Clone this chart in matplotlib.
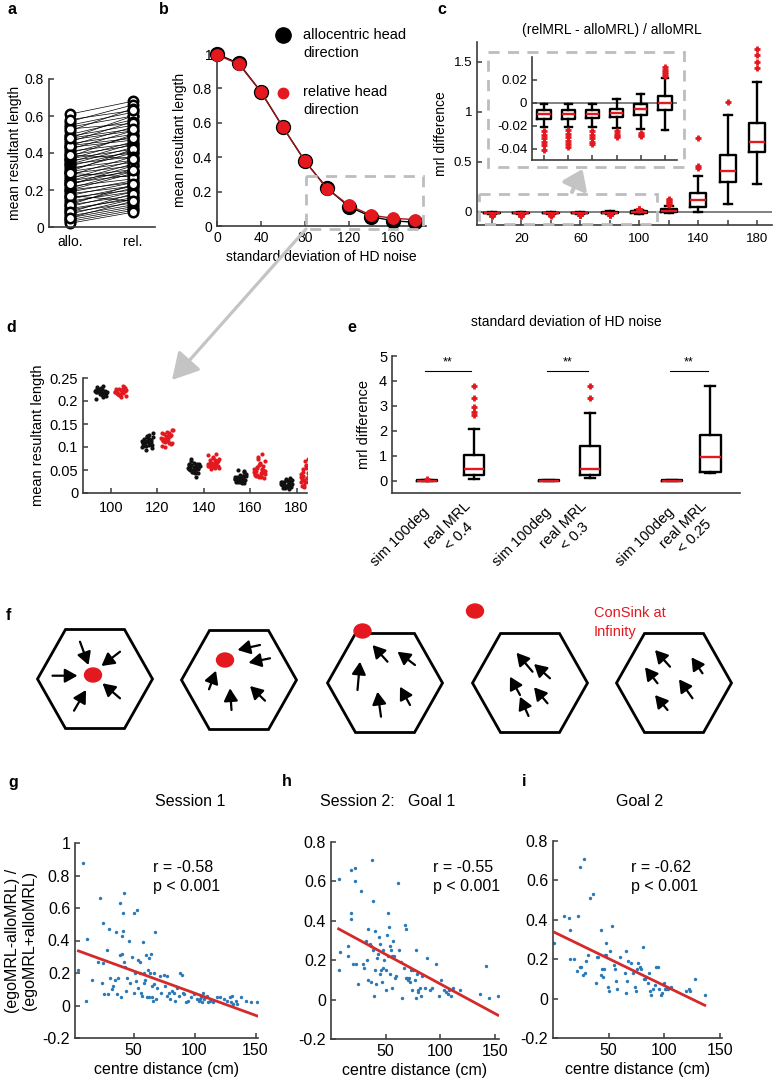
import numpy as np
import matplotlib
matplotlib.use("Agg")
import matplotlib.pyplot as plt
from matplotlib.patches import Polygon, Ellipse, Rectangle, FancyArrowPatch
from matplotlib.ticker import FuncFormatter

# ======================= DATA =======================
# --- panel a: paired mean resultant lengths
a_labels = ["allo.", "rel."]
a_allo = [0.61, 0.57, 0.55, 0.54, 0.52, 0.50, 0.49, 0.48, 0.47, 0.46,
          0.45, 0.44, 0.43, 0.42, 0.41, 0.40, 0.39, 0.38, 0.37, 0.37,
          0.36, 0.35, 0.34, 0.34, 0.33, 0.32, 0.31, 0.30, 0.30, 0.29,
          0.28, 0.27, 0.26, 0.25, 0.25, 0.24, 0.23, 0.22, 0.21, 0.20,
          0.20, 0.19, 0.18, 0.17, 0.16, 0.15, 0.14, 0.13, 0.12, 0.11,
          0.10, 0.09, 0.08, 0.07, 0.06, 0.05, 0.04, 0.03, 0.02, 0.53,
          0.44, 0.39, 0.29, 0.23, 0.17, 0.12, 0.08, 0.05, 0.58, 0.48]
a_rel = [0.68, 0.66, 0.62, 0.60, 0.64, 0.58, 0.55, 0.60, 0.52, 0.57,
         0.50, 0.54, 0.47, 0.52, 0.45, 0.49, 0.44, 0.50, 0.42, 0.46,
         0.40, 0.45, 0.38, 0.43, 0.41, 0.36, 0.40, 0.35, 0.42, 0.33,
         0.38, 0.31, 0.36, 0.30, 0.34, 0.28, 0.33, 0.26, 0.30, 0.24,
         0.29, 0.25, 0.22, 0.24, 0.20, 0.22, 0.19, 0.21, 0.17, 0.19,
         0.15, 0.16, 0.13, 0.15, 0.12, 0.11, 0.10, 0.09, 0.08, 0.56,
         0.48, 0.37, 0.27, 0.31, 0.14, 0.23, 0.18, 0.14, 0.63, 0.53]

# --- panel b: MRL vs HD noise
b_noise = [0, 20, 40, 60, 80, 100, 120, 140, 160, 180]
b_allo = [1.0, 0.945, 0.78, 0.574, 0.377, 0.22, 0.112, 0.055, 0.03, 0.022]
b_rel = [0.995, 0.94, 0.78, 0.574, 0.377, 0.218, 0.12, 0.063, 0.045, 0.037]

# --- panel c: (relMRL - alloMRL)/alloMRL box statistics
c_noise = [0, 20, 40, 60, 80, 100, 120, 140, 160, 180]
c_ticklabels = ["", "20", "", "60", "", "100", "", "140", "", "180"]
c_med = [-0.0098, -0.0098, -0.0095, -0.0085, -0.0055, 0.0, 0.012, 0.12, 0.41, 0.70]
c_q1 = [-0.014, -0.014, -0.0135, -0.0125, -0.0105, -0.006, -0.003, 0.05, 0.30, 0.60]
c_q3 = [-0.0067, -0.0065, -0.0063, -0.0052, -0.0015, 0.0055, 0.035, 0.19, 0.57, 0.89]
c_lo = [-0.021, -0.021, -0.021, -0.022, -0.023, -0.024, -0.008, 0.0, 0.08, 0.28]
c_hi = [-0.001, -0.001, -0.001, 0.003, 0.0075, 0.022, 0.06, 0.36, 0.97, 1.30]
c_fliers = [[-0.025, -0.028, -0.031, -0.034, -0.037, -0.041],
            [-0.024, -0.027, -0.030, -0.033, -0.036, -0.039],
            [-0.025, -0.028, -0.031, -0.034, -0.036],
            [-0.025, -0.027, -0.029, -0.030],
            [-0.026, -0.028, -0.029],
            [0.023, 0.025, 0.027, 0.029, 0.031],
            [0.075, 0.09, 0.105, 0.12, 0.135],
            [0.44, 0.46, 0.74],
            [1.10],
            [1.44, 1.50, 1.57, 1.63]]

# --- panel d: simulated MRL clouds
d_noise = [100, 120, 140, 160, 180]
d_allo = [
    [0.222, 0.218, 0.225, 0.213, 0.229, 0.220, 0.216, 0.224, 0.211, 0.227, 0.219, 0.221, 0.215, 0.223,
     0.208, 0.226, 0.217, 0.220, 0.230, 0.214, 0.222, 0.219, 0.212, 0.224, 0.218, 0.221, 0.205, 0.232],
    [0.112, 0.105, 0.118, 0.098, 0.124, 0.109, 0.115, 0.102, 0.121, 0.110, 0.107, 0.116, 0.113, 0.100,
     0.127, 0.111, 0.104, 0.119, 0.108, 0.114, 0.093, 0.131, 0.117, 0.106, 0.111, 0.122, 0.103, 0.115],
    [0.055, 0.048, 0.061, 0.043, 0.066, 0.052, 0.058, 0.045, 0.063, 0.050, 0.057, 0.054, 0.047, 0.060,
     0.035, 0.070, 0.053, 0.056, 0.049, 0.062, 0.051, 0.059, 0.044, 0.073, 0.055, 0.046, 0.064, 0.052],
    [0.030, 0.025, 0.035, 0.022, 0.040, 0.028, 0.033, 0.024, 0.038, 0.027, 0.031, 0.045, 0.026, 0.034,
     0.021, 0.050, 0.029, 0.032, 0.023, 0.036, 0.028, 0.042, 0.027, 0.031, 0.048, 0.025, 0.030, 0.037],
    [0.020, 0.015, 0.025, 0.012, 0.030, 0.018, 0.022, 0.010, 0.028, 0.017, 0.021, 0.033, 0.014, 0.024,
     0.008, 0.019, 0.026, 0.016, 0.023, 0.031, 0.013, 0.020, 0.027, 0.011, 0.018, 0.029, 0.022, 0.016],
]
d_rel = [
    [0.219, 0.224, 0.215, 0.228, 0.212, 0.221, 0.217, 0.226, 0.210, 0.223, 0.218, 0.231, 0.214, 0.220,
     0.225, 0.216, 0.222, 0.208, 0.227, 0.219, 0.213, 0.224, 0.221, 0.217, 0.229, 0.215, 0.222, 0.233],
    [0.120, 0.112, 0.128, 0.106, 0.133, 0.117, 0.124, 0.110, 0.137, 0.119, 0.114, 0.126, 0.121, 0.103,
     0.130, 0.116, 0.109, 0.123, 0.118, 0.125, 0.100, 0.138, 0.122, 0.113, 0.127, 0.115, 0.131, 0.108],
    [0.063, 0.055, 0.071, 0.058, 0.078, 0.061, 0.067, 0.053, 0.074, 0.060, 0.065, 0.069, 0.057, 0.082,
     0.062, 0.056, 0.070, 0.064, 0.059, 0.085, 0.066, 0.054, 0.072, 0.061, 0.068, 0.076, 0.058, 0.063],
    [0.045, 0.038, 0.055, 0.033, 0.062, 0.041, 0.050, 0.036, 0.070, 0.043, 0.047, 0.058, 0.035, 0.052,
     0.085, 0.040, 0.044, 0.066, 0.037, 0.049, 0.075, 0.042, 0.034, 0.056, 0.046, 0.060, 0.039, 0.053,
     0.078, 0.048],
    [0.035, 0.025, 0.045, 0.020, 0.055, 0.030, 0.040, 0.018, 0.065, 0.033, 0.038, 0.050, 0.023, 0.042,
     0.075, 0.028, 0.036, 0.060, 0.015, 0.046, 0.070, 0.027, 0.032, 0.052, 0.039, 0.058, 0.024, 0.044,
     0.012, 0.048],
]

# --- panel e: simulated vs real box statistics
e_labels = ["sim 100deg", "real MRL\n< 0.4", "sim 100deg", "real MRL\n< 0.3",
            "sim 100deg", "real MRL\n< 0.25"]
e_med = [0.0, 0.47, 0.0, 0.47, 0.0, 0.95]
e_q1 = [-0.01, 0.24, -0.01, 0.24, -0.01, 0.33]
e_q3 = [0.01, 1.04, 0.01, 1.40, 0.01, 1.83]
e_lo = [-0.02, 0.08, -0.02, 0.10, -0.02, 0.30]
e_hi = [0.03, 2.07, 0.02, 2.73, 0.02, 3.80]
e_fliers = [[0.07], [2.65, 2.75, 2.96, 3.31, 3.79], [], [3.33, 3.79], [], []]
e_sig = ["**", "**", "**"]

# --- panel f: schematic (hexagon centres, sink positions, arrows tail->head), pixels
f_hex_x = [95, 239, 385, 530, 674]
f_hex_y = [679, 680, 683, 683, 683]
f_sink_x = [93, 225, 362.5, 475]
f_sink_y = [675, 660, 631, 611]
f_arrows = [
    ((80, 641.7), (88.5, 665)), ((120, 651.7), (101.5, 666)), ((52.5, 675.7), (77.5, 675.7)),
    ((74, 710.7), (86, 690)), ((120, 698.3), (102.5, 683.3)),
    ((260, 645), (237.5, 650)), ((270, 658.3), (248.5, 662.7)), ((209, 689.3), (216, 670.7)),
    ((231.5, 710), (230, 688.3)), ((265, 700.7), (250, 686)),
    ((387.5, 661.7), (372.5, 645)), ((415, 665), (397.5, 651.7)), ((357.5, 690), (360, 661.7)),
    ((381, 716.7), (377.5, 691.7)), ((410, 705), (400, 686.7)),
    ((532.5, 671.7), (516.5, 652.7)), ((550, 678.3), (534, 664)), ((520, 695), (510, 676.7)),
    ((528.5, 716), (520, 696.7)), ((547.5, 703.3), (534, 687.3)),
    ((670, 666.7), (655, 650)), ((702.5, 673.3), (691.5, 657.3)), ((657.5, 683.3), (645, 667.3)),
    ((692.5, 698.3), (679, 679.3)), ((667.5, 710), (655, 695)),
]

# --- panels g, h, i: scatter + regression
g_x = [8.9, 4.8, 11, 11.6, 15.8, 21, 22.6, 24, 25.3, 25.3,
       26, 28, 29.4, 30, 30.8, 32, 33.5, 35, 36, 36.8,
       37.6, 39, 39, 39.6, 40.4, 40.4, 41.2, 41.2, 41.8, 42.3,
       43, 44, 44.5, 45.9, 47, 48.6, 50, 50.5, 51.4, 52.2,
       53, 53.3, 54, 55, 55.5, 56.3, 57, 57.7, 58.2, 58.8,
       59.6, 60.4, 61, 61.6, 62.3, 63, 63.7, 64.3, 65, 65,
       66, 66.4, 67, 67.8, 68.6, 69.2, 71.4, 72.5, 74.7, 76,
       77, 77.4, 78.8, 80, 81.5, 82.9, 84.2, 85.6, 87, 88.4,
       89.7, 90.5, 91.6, 93.3, 95, 97, 99.3, 102, 103.4, 104.2,
       105, 105.6, 106.2, 107, 108, 109, 110, 110.8, 113, 115.2,
       118.5, 121.2, 124, 126.7, 129, 129.5, 131, 131.6, 133.6, 135,
       137.7, 141.8, 145.9, 151.4]
g_y = [0.88, 0.22, 0.03, 0.41, 0.16, 0.27, 0.66, 0.14, 0.51, 0.26,
       0.07, 0.34, 0.07, 0.47, 0.17, 0.10, 0.12, 0.16, 0.45, 0.07,
       0.17, 0.63, 0.31, 0.05, 0.43, 0.32, 0.57, 0.46, 0.27, 0.69,
       0.24, 0.09, 0.17, 0.40, 0.14, 0.30, 0.57, 0.08, 0.20, 0.15,
       0.59, 0.28, 0.11, 0.27, 0.20, 0.08, 0.06, 0.39, 0.20, 0.14,
       0.16, 0.31, 0.05, 0.22, 0.29, 0.05, 0.20, 0.32, 0.12, 0.05,
       0.03, 0.13, 0.20, 0.45, 0.04, 0.11, 0.18, 0.08, 0.19, 0.12,
       0.18, 0.06, 0.08, 0.04, 0.09, 0.08, 0.03, 0.11, 0.06, 0.20,
       0.19, 0.08, 0.07, 0.02, 0.03, 0.05, 0.07, 0.04, 0.03, 0.04,
       0.05, 0.06, 0.02, 0.08, 0.04, 0.05, 0.06, 0.02, 0.03, 0.02,
       0.05, 0.05, 0.04, 0.03, 0.05, 0.02, 0.06, 0.01, 0.03, 0.01,
       0.05, 0.03, 0.02, 0.02]
g_fit = (-0.00273, 0.349)   # slope, intercept
g_stats = ["r = -0.58", "p < 0.001"]

h_x = [7, 7, 8.4, 15.4, 16, 18.5, 18.5, 18.5, 20, 21.6,
       22, 23, 24.6, 27.7, 29, 30.7, 32.3, 33, 34, 34,
       35.3, 36.8, 36.8, 37.7, 38.3, 38.3, 39, 40, 40, 40.8,
       42, 43, 43.9, 44.5, 45, 46, 47, 47.6, 48, 49,
       50, 50.6, 51, 51.8, 52, 53, 53.7, 54.3, 55, 55.5,
       56, 56.7, 57.3, 58.3, 59.8, 61.3, 62.3, 64.4, 65.4, 66.5,
       67.4, 68.3, 69, 69.6, 70.5, 71.4, 72, 73.5, 74.5, 75,
       76.6, 77.5, 78, 78.8, 79.4, 80, 81.2, 82.7, 83.6, 85.8,
       88.2, 90.4, 92.8, 96.5, 99, 101, 104, 105.7, 107, 108,
       110, 111.8, 118, 137, 142, 145, 153]
h_y = [0.61, 0.15, 0.24, 0.27, 0.22, 0.66, 0.44, 0.41, 0.18, 0.67,
       0.60, 0.18, 0.08, 0.55, 0.18, 0.16, 0.30, 0.20, 0.36, 0.10,
       0.28, 0.27, 0.09, 0.71, 0.50, 0.25, 0.02, 0.35, 0.15, 0.08,
       0.21, 0.23, 0.32, 0.13, 0.28, 0.15, 0.09, 0.25, 0.16, 0.20,
       0.05, 0.15, 0.33, 0.22, 0.44, 0.37, 0.27, 0.13, 0.25, 0.22,
       0.06, 0.30, 0.22, 0.11, 0.12, 0.59, 0.25, 0.19, 0.01, 0.16,
       0.38, 0.36, 0.11, 0.11, 0.10, 0.11, 0.09, 0.15, 0.05, 0.15,
       0.10, 0.01, 0.25, 0.13, 0.05, 0.04, 0.06, 0.02, 0.12, 0.06,
       0.21, 0.05, 0.06, 0.18, 0.02, 0.10, 0.05, 0.04, 0.03, 0.05,
       0.02, 0.06, 0.05, 0.03, 0.17, 0.01, 0.02]
h_fit = (-0.0030, 0.38)
h_stats = ["r = -0.55", "p < 0.001"]

i_x = [0.5, 9.8, 14, 15, 15.5, 18.8, 21.5, 22.4, 24, 24.5,
       25.3, 27, 27.5, 28.4, 30, 31.4, 33, 36, 38.3, 39.5,
       40.4, 43, 43.4, 44, 45, 45.5, 46.4, 47.3, 48, 49.4,
       50.3, 51.5, 53.3, 54.5, 55.4, 57, 57.5, 60, 64.4, 65.3,
       66, 66.5, 67.4, 70.4, 72, 73.4, 74.3, 75.5, 76.7, 78.5,
       79.4, 81, 81.5, 82.4, 84, 85.4, 86.3, 87.5, 88.4, 90,
       91.4, 93, 94.4, 95.3, 97.4, 98.3, 99.5, 100.4, 102, 103.4,
       106.4, 119.3, 122.4, 123.6, 127.5, 136.5]
i_y = [0.28, 0.42, 0.41, 0.35, 0.20, 0.20, 0.14, 0.42, 0.16, 0.67,
       0.16, 0.12, 0.71, 0.13, 0.19, 0.22, 0.51, 0.53, 0.08, 0.21,
       0.21, 0.35, 0.12, 0.15, 0.11, 0.15, 0.22, 0.28, 0.22, 0.06,
       0.04, 0.24, 0.37, 0.17, 0.15, 0.09, 0.05, 0.21, 0.13, 0.24,
       0.03, 0.09, 0.19, 0.18, 0.13, 0.06, 0.04, 0.15, 0.18, 0.16,
       0.15, 0.26, 0.10, 0.10, 0.11, 0.08, 0.13, 0.04, 0.02, 0.05,
       0.07, 0.16, 0.16, 0.05, 0.02, 0.03, 0.08, 0.05, 0.05, 0.05,
       0.06, 0.04, 0.05, 0.04, 0.10, 0.02]
i_fit = (-0.00274, 0.34)
i_stats = ["r = -0.62", "p < 0.001"]

# ======================= STYLE =======================
plt.rcParams.update({
    "font.family": ["Liberation Sans", "DejaVu Sans"],
    "axes.unicode_minus": False,
    "xtick.direction": "in",
    "ytick.direction": "in",
    "xtick.major.size": 3.5,
    "ytick.major.size": 3.5,
    "axes.linewidth": 1.2,
    "axes.edgecolor": "#3c3c3c",
    "xtick.color": "#3c3c3c",
    "ytick.color": "#3c3c3c",
    "xtick.labelcolor": "black",
    "ytick.labelcolor": "black",
})
RED = "#e3191f"
BLUE = "#2a7ab9"
FITRED = "#d42a2a"
GREY = "#bdbdbd"

W, H = 776, 1080
fig = plt.figure(figsize=(W / 100, H / 100), dpi=100)


def add_ax(x0, y0, x1, y1, **kw):
    return fig.add_axes([x0 / W, 1 - y1 / H, (x1 - x0) / W, (y1 - y0) / H], **kw)


fmt = FuncFormatter(lambda v, p: "0" if abs(v) < 1e-9 else "%g" % round(v, 6))


def style(ax, fs):
    for s in ("top", "right"):
        ax.spines[s].set_visible(False)
    ax.tick_params(labelsize=fs, width=1.1)
    ax.yaxis.set_major_formatter(fmt)
    ax.set_facecolor("none")


def box_stats(med, q1, q3, lo, hi, fl):
    return [dict(med=m, q1=a, q3=b, whislo=l, whishi=h, fliers=f)
            for m, a, b, l, h, f in zip(med, q1, q3, lo, hi, fl)]


BXP_KW = dict(
    boxprops=dict(color="k", linewidth=1.7),
    medianprops=dict(color=RED, linewidth=1.7),
    whiskerprops=dict(color="k", linewidth=1.7),
    capprops=dict(color="k", linewidth=1.7),
    flierprops=dict(marker="+", markeredgecolor=RED, markersize=5, markeredgewidth=2,
                    linestyle="none"),
    showfliers=True,
)

# ---------------- panel a ----------------
ax = add_ax(49, 79, 155, 227)
style(ax, 10)
n = len(a_allo)
ax.plot([np.ones(n), 2 * np.ones(n)], [a_allo, a_rel], color="k", lw=0.5)
ax.plot(np.ones(n), a_allo, "o", mfc="white", mec="k", mew=1.8, ms=6.8, clip_on=False)
ax.plot(2 * np.ones(n), a_rel, "o", mfc="white", mec="k", mew=1.8, ms=6.8, clip_on=False)
ax.set_xlim(0.67, 2.35)
ax.set_ylim(0, 0.8)
ax.set_yticks([0, 0.2, 0.4, 0.6, 0.8])
ax.set_xticks([1, 2])
ax.set_xticklabels(a_labels)
ax.tick_params(axis="x", length=0, pad=6)
ax.set_ylabel("mean resultant length", fontsize=10, labelpad=2)

# ---------------- panel b ----------------
ax = add_ax(217, 54, 426, 226)
style(ax, 10)
ax.plot(b_noise, b_allo, "-", color="k", lw=1.0, marker="o", ms=10, mfc="k", mec="k",
        clip_on=False, zorder=3)
ax.plot(b_noise, b_rel, "-", color="#9e1515", lw=1.0, marker="o", ms=8.2, mfc=RED, mec=RED,
        clip_on=False, zorder=4)
ax.set_xlim(0, 190)
ax.set_ylim(0, 1.0)
ax.set_xticks([0, 40, 80, 120, 160])
ax.set_yticks([0, 0.2, 0.4, 0.6, 0.8, 1.0])
ax.set_xlabel("standard deviation of HD noise", fontsize=10, labelpad=4)
ax.set_ylabel("mean resultant length", fontsize=10, labelpad=4)

# ---------------- panel c ----------------
cst = box_stats(c_med, c_q1, c_q3, c_lo, c_hi, c_fliers)
ax = add_ax(477, 42, 772, 225)
style(ax, 9.5)
ax.axhline(0, color="#808080", lw=1.4, zorder=0)
ax.bxp(cst, positions=c_noise, widths=11, **BXP_KW)
ax.set_xlim(-10, 190)
ax.set_ylim(-0.13, 1.7)
ax.set_xticks(c_noise)
ax.set_xticklabels(c_ticklabels)
ax.set_yticks([0, 0.5, 1, 1.5])
ax.tick_params(axis="x", pad=6)
ax.set_ylabel("mrl difference", fontsize=10, labelpad=4)

axi = add_ax(532, 57, 677, 160)
style(axi, 9.5)
axi.axhline(0, color="#808080", lw=1.4, zorder=0)
axi.bxp(cst[:6], positions=range(6), widths=0.55, **BXP_KW)
axi.set_xlim(-0.5, 5.5)
axi.set_ylim(-0.05, 0.04)
axi.set_yticks([-0.04, -0.02, 0, 0.02])
axi.set_xticks(range(6))
axi.set_xticklabels([])

# ---------------- panel d ----------------
ax = add_ax(83, 378, 307, 493)
style(ax, 10.5)


def jitter(k):
    return ((np.arange(k) * 0.618034) % 1.0 - 0.5) * 5.0


for x0, ya, yr in zip(d_noise, d_allo, d_rel):
    ax.plot(x0 - 4.2 + jitter(len(ya)), ya, "o", ms=3.0, color="#111111", mew=0)
    ax.plot(x0 + 4.2 + jitter(len(yr)), yr, "o", ms=3.0, color=RED, mew=0)
ax.set_xlim(88, 184.5)
ax.set_ylim(0, 0.25)
ax.set_xticks(d_noise)
ax.set_yticks([0, 0.05, 0.1, 0.15, 0.2, 0.25])
ax.tick_params(axis="x", pad=6)
ax.set_ylabel("mean resultant length", fontsize=10.5, labelpad=3)

# ---------------- panel e ----------------
e_pos = [1.0, 2.35, 4.5, 5.7, 8.05, 9.15]
est = box_stats(e_med, e_q1, e_q3, e_lo, e_hi, e_fliers)
ax = add_ax(392, 356, 740, 493)
style(ax, 10.5)
ax.bxp(est, positions=e_pos, widths=0.58, **BXP_KW)
for k, s in enumerate(e_sig):
    p0, p1 = e_pos[2 * k] - 0.05, e_pos[2 * k + 1] - 0.08
    ax.plot([p0, p1], [4.4, 4.4], color="k", lw=0.8)
    ax.text((p0 + p1) / 2, 4.5, s, ha="center", va="bottom", fontsize=9)
ax.set_xlim(0, 10)
ax.set_ylim(-0.5, 5)
ax.set_yticks([0, 1, 2, 3, 4, 5])
ax.set_xticks(e_pos)
ax.set_xticklabels(e_labels, rotation=45, ha="right", va="center",
                   rotation_mode="anchor", multialignment="center", fontsize=10.5)
ax.tick_params(axis="x", length=0, pad=12)
ax.set_ylabel("mrl difference", fontsize=10.5, labelpad=6)

# ---------------- panels g, h, i ----------------
def scatter_panel(box, xs, ys, fit, ylim, xlim, yticks):
    ax = add_ax(*box)
    style(ax, 11.5)
    ax.scatter(xs, ys, s=6, color=BLUE, linewidths=0, zorder=2)
    xx = np.array([min(xs), max(xs)])
    ax.plot(xx, fit[0] * xx + fit[1], color=FITRED, lw=2, zorder=3)
    ax.set_xlim(*xlim)
    ax.set_ylim(*ylim)
    ax.set_xticks([50, 100, 150])
    ax.set_yticks(yticks)
    ax.set_xlabel("centre distance (cm)", fontsize=11.5, labelpad=3)
    return ax


axg = scatter_panel((75, 843, 258, 1038), g_x, g_y, g_fit, (-0.2, 1.0), (2, 152),
                    [-0.2, 0, 0.2, 0.4, 0.6, 0.8, 1.0])
axg.set_ylabel("(egoMRL-alloMRL) /\n(egoMRL+alloMRL)", fontsize=11.5, labelpad=4)
scatter_panel((331, 842, 499, 1039), h_x, h_y, h_fit, (-0.2, 0.8), (0, 154),
              [-0.2, 0, 0.2, 0.4, 0.6, 0.8])
scatter_panel((553, 841, 722, 1038), i_x, i_y, i_fit, (-0.2, 0.8), (0, 152),
              [-0.2, 0, 0.2, 0.4, 0.6, 0.8])

# ---------------- overlay (pixel coordinates) ----------------
ov = fig.add_axes([0, 0, 1, 1], zorder=20)
ov.set_xlim(0, W)
ov.set_ylim(H, 0)
ov.axis("off")
ov.patch.set_alpha(0)


def T(x, y, s, **kw):
    kw.setdefault("va", "center")
    ov.text(x, y, s, **kw)


# panel letters
for lab, x, y in [("a", 7, 9), ("b", 159, 9), ("c", 437, 9), ("d", 6, 328), ("e", 347, 328),
                  ("f", 6, 615), ("g", 8, 783), ("h", 282, 782), ("i", 522, 782)]:
    T(x, y, lab, fontsize=11.5, fontweight="bold", ha="left")

# legend of b
ov.plot([283], [35], "o", ms=11, color="k")
ov.plot([283], [93], "o", ms=7.5, color=RED)
T(303, 35, "allocentric head", fontsize=10.5)
T(303, 53, "direction", fontsize=10.5)
T(303, 92, "relative head", fontsize=10.5)
T(303, 110, "direction", fontsize=10.5)

# titles
T(612, 30, "(relMRL - alloMRL) / alloMRL", fontsize=10, ha="center")
T(566, 322, "standard deviation of HD noise", fontsize=10, ha="center")

# dashed zoom boxes and grey arrows
dash = dict(fill=False, ec=GREY, lw=2, ls=(0, (4, 3)))
ov.add_patch(Rectangle((306, 176), 117, 53, **dash))
ov.add_patch(Rectangle((488, 52), 196, 115, **dash))
ov.add_patch(Rectangle((479, 194), 178, 30, **dash))
ov.add_patch(FancyArrowPatch((306, 229), (172, 380), arrowstyle="-|>,head_length=0.8,head_width=0.45",
                             mutation_scale=20, lw=2.3, color="#c4c4c4", shrinkA=0, shrinkB=0))
ov.add_patch(FancyArrowPatch((572, 192), (582.5, 169), arrowstyle="-|>,head_length=0.7,head_width=0.5",
                             mutation_scale=16, lw=3, color="#c4c4c4", shrinkA=0, shrinkB=0))

# panel f schematic
HW, HH, TE = 57.5, 49.5, 29.5
for cx, cy in zip(f_hex_x, f_hex_y):
    verts = [(cx - TE, cy - HH), (cx + TE, cy - HH), (cx + HW, cy), (cx + TE, cy + HH),
             (cx - TE, cy + HH), (cx - HW, cy)]
    ov.add_patch(Polygon(verts, closed=True, fill=False, ec="k", lw=2.0, joinstyle="miter"))
for sx, sy in zip(f_sink_x, f_sink_y):
    ov.add_patch(Ellipse((sx, sy), 17, 14, color=RED, zorder=5))
for tail, head in f_arrows:
    ov.add_patch(FancyArrowPatch(tail, head, arrowstyle="-|>,head_length=0.5,head_width=0.28",
                                 mutation_scale=15, lw=1.6, color="k", shrinkA=0, shrinkB=0))
T(594, 613, "ConSink at", fontsize=10.5, color=RED)
T(594, 632, "Infinity", fontsize=10.5, color=RED)

# g/h/i annotations
T(190, 802, "Session 1", fontsize=11.5, ha="center")
T(320, 801, "Session 2:", fontsize=11.5, ha="left")
T(408, 801, "Goal 1", fontsize=11.5, ha="left")
T(640, 801, "Goal 2", fontsize=11.5, ha="center")
for x0, st in [(153, g_stats), (433, h_stats), (631, i_stats)]:
    T(x0, 868, st[0], fontsize=11.5, ha="left")
    T(x0, 887, st[1], fontsize=11.5, ha="left")

fig.savefig("out.png", dpi=100)
